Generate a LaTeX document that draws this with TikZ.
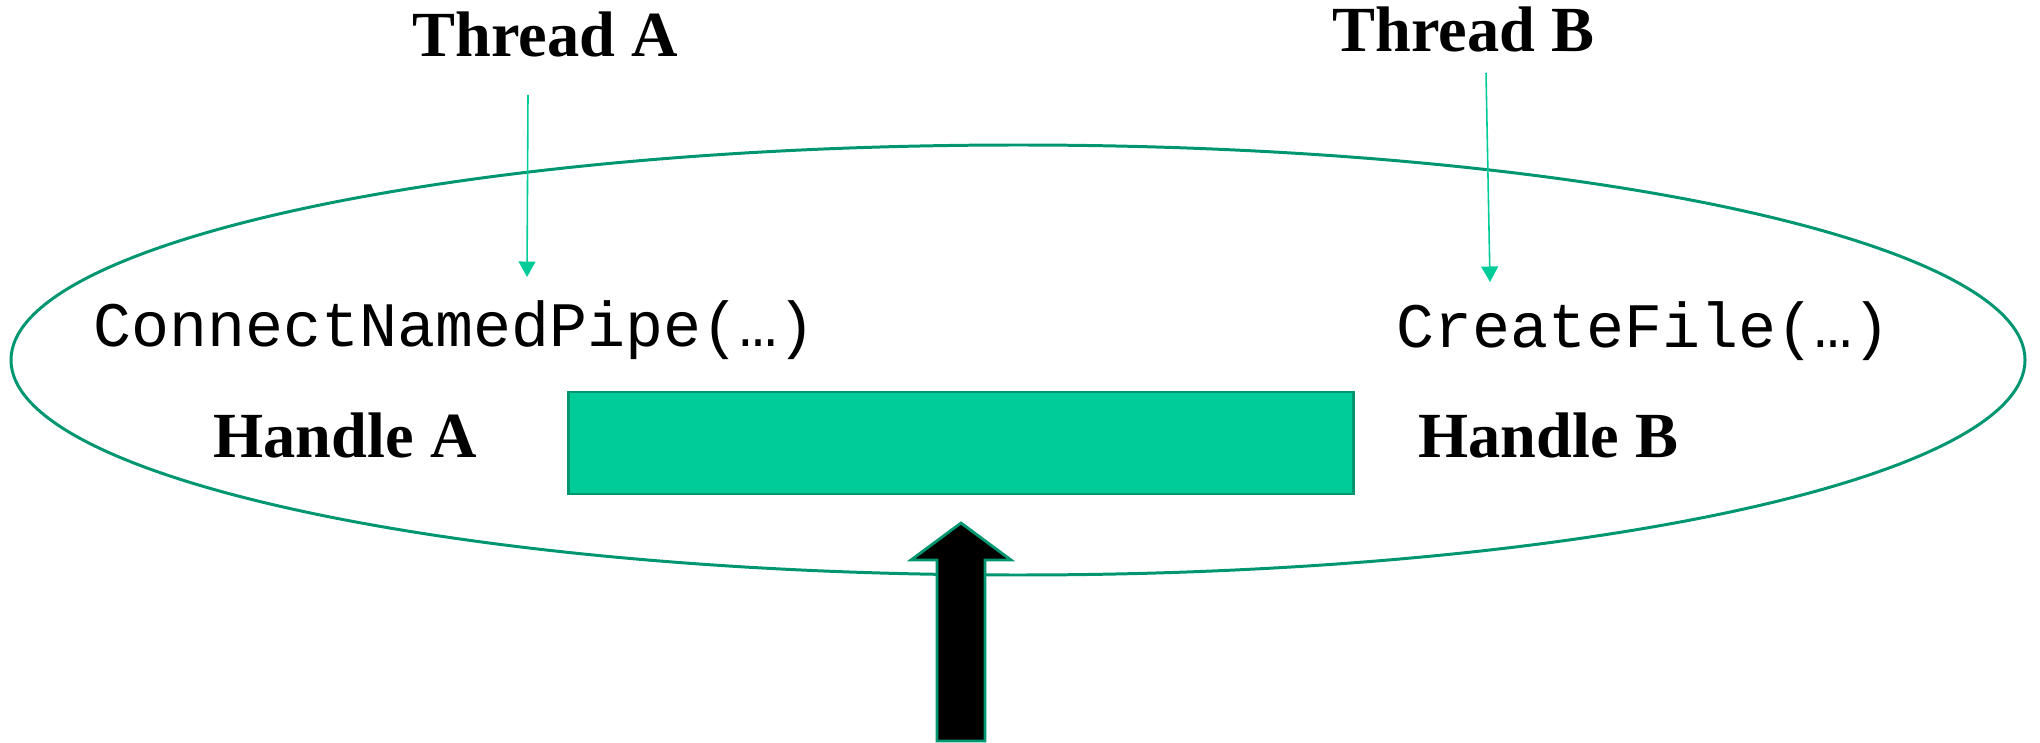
\documentclass[tikz,border=0pt]{standalone}
\usepackage{fontspec}
\setmainfont{Liberation Serif}
\setmonofont{Liberation Mono}
\usepackage{tikz}
\usetikzlibrary{arrows.meta}
\usepackage{xcolor}
\definecolor{pipeline}{RGB}{0,150,112}
\definecolor{pipefill}{RGB}{0,204,153}
\tikzset{
    label/.style={inner sep=0,anchor=base west,font=\fontsize{18.3}{22}\selectfont\bfseries},
    call/.style={inner sep=0,anchor=base west,font=\fontsize{18}{22}\selectfont\ttfamily},
    thin arrow/.style={draw=pipefill,line width=0.45pt,-{Triangle[length=4.4pt,width=4.8pt]}},
}
\newcommand{\bigarrow}[1] {
    \draw[fill=black,draw=pipeline,line width=0.8pt]
        ({#1},523) -- ({#1+50},560) -- ({#1+24},560) -- ({#1+24},741)
        -- ({#1-24},741) -- ({#1-24},560) -- ({#1-50},560) -- cycle;
}

\begin{document}
\begin{tikzpicture}[x=0.01cm,y=-0.01cm]
        \useasboundingbox (0,0) rectangle (2040,743);
        \draw[pipeline,line width=0.85pt] (1018,360) ellipse (1007 and 215);
        \draw[draw=pipeline,fill=pipefill,line width=0.85pt] (568,392) rectangle (1353,494);
        \node[label] (threadA) at (412,57) {Thread A};
        \node[label] (threadB) at (1332,52) {Thread B};
        \node[call] (connect) at (93,347) {ConnectNamedPipe(…)};
        \node[call] (create) at (1396,348) {CreateFile(…)};
        \node[label] (handleA) at (213,457) {Handle A};
        \node[label] (handleB) at (1418,457) {Handle B};
        \coordinate (fromA) at (528,95);
        \coordinate (toA) at (527,277);
        \coordinate (fromB) at (1486,73);
        \coordinate (toB) at (1490,282);
        \draw[thin arrow] (fromA) -- (toA);
        \draw[thin arrow] (fromB) -- (toB);
        \bigarrow{961};
    \end{tikzpicture}
\end{document}
